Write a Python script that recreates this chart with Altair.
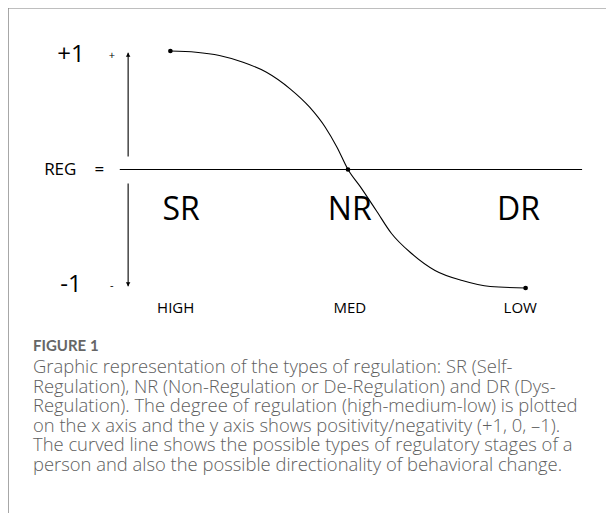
import altair as alt
import pandas as pd

# ---- data ----
curve_x = [0.0, 0.144, 0.276, 0.409, 0.541, 0.674, 0.784, 0.872, 0.938, 1.0,
           1.071, 1.159, 1.245, 1.358, 1.490, 1.643, 1.801, 2.0]
curve_y = [1.0, 0.990, 0.962, 0.905, 0.821, 0.681, 0.526, 0.357, 0.188, 0.0,
           -0.149, -0.346, -0.540, -0.709, -0.852, -0.937, -0.987, -1.0]

dot_x = [0.0, 1.0, 2.0]
dot_y = [1.0, 0.0, -1.0]

x_labels = ["HIGH", "MED", "LOW"]
x_label_pos = [0.03, 1.01, 1.97]

region_labels = ["SR", "NR", "DR"]
region_pos = [0.06, 1.01, 1.96]

y_labels = ["+1", "-1"]
y_label_val = [0.97, -0.975]
sign_labels = ["+", "-"]

reg_label = ["REG", "="]
reg_label_pos = [-0.62, -0.40]

caption_head = "FIGURE 1"
caption_lines = [
    "Graphic representation of the types of regulation: SR (Self-",
    "Regulation), NR (Non-Regulation or De-Regulation) and DR (Dys-",
    "Regulation). The degree of regulation (high-medium-low) is plotted",
    "on the x axis and the y axis shows positivity/negativity (+1, 0, \u20131).",
    "The curved line shows the possible types of regulatory stages of a",
    "person and also the possible directionality of behavioral change.",
]

# ---- geometry of the scales ----
W, H = 598, 505
XD = [-0.9144, -0.9144 + W / 177.6]
YD = [1.3629 - H / 118.5, 1.3629]
xs = alt.Scale(domain=XD, nice=False, zero=False)
ys = alt.Scale(domain=YD, nice=False, zero=False)

FONT = "Open Sans"

curve_df = pd.DataFrame({"x": curve_x, "y": curve_y, "o": list(range(len(curve_x)))})
dots_df = pd.DataFrame({"x": dot_x, "y": dot_y})
xlab_df = pd.DataFrame({"t": x_labels, "x": x_label_pos, "y": [-1.165] * 3})
reg_df = pd.DataFrame({"t": region_labels, "x": region_pos, "y": [-0.34] * 3})
ylab_df = pd.DataFrame({"t": y_labels, "x": [-0.560, -0.560], "y": y_label_val})
sign_df = pd.DataFrame({"t": sign_labels, "x": [-0.33, -0.33], "y": [0.96, -0.985]})
regeq_df = pd.DataFrame({"t": reg_label, "x": reg_label_pos, "y": [0.0, 0.0]})
hline_df = pd.DataFrame({"x": [-0.285], "x2": [2.318], "y": [0.0]})
vline_df = pd.DataFrame({"x": [-0.238, -0.238], "y": [0.985, -0.118], "y2": [0.11, -0.985]})
arrow_df = pd.DataFrame({"x": [-0.238, -0.238], "y": [0.968, -0.968],
                         "s": ["triangle-up", "triangle-down"]})

X = lambda f="x": alt.X(f"{f}:Q", scale=xs, axis=None)
Y = lambda f="y": alt.Y(f"{f}:Q", scale=ys, axis=None)

curve = alt.Chart(curve_df).mark_line(color="black", strokeWidth=1.1, interpolate="monotone").encode(
    x=X(), y=Y(), order="o:Q")
dots = alt.Chart(dots_df).mark_point(filled=True, color="black", size=22, opacity=1).encode(x=X(), y=Y())
hline = alt.Chart(hline_df).mark_rule(color="black", strokeWidth=1.2).encode(
    x=X(), x2="x2:Q", y=Y())
vline = alt.Chart(vline_df).mark_rule(color="black", strokeWidth=1.1).encode(
    x=X(), y=Y(), y2="y2:Q")
arrows = alt.Chart(arrow_df).mark_point(filled=True, color="black", size=20, opacity=1).encode(
    x=X(), y=Y(), shape=alt.Shape("s:N", scale=None))

xlab = alt.Chart(xlab_df).mark_text(font=FONT, fontSize=15, color="black", baseline="middle").encode(
    x=X(), y=Y(), text="t:N")
reglab = alt.Chart(reg_df).mark_text(font=FONT, fontSize=32, color="black", baseline="middle").encode(
    x=X(), y=Y(), text="t:N")
ylab = alt.Chart(ylab_df).mark_text(font=FONT, fontSize=24, color="black", baseline="middle").encode(
    x=X(), y=Y(), text="t:N")
signlab = alt.Chart(sign_df).mark_text(font=FONT, fontSize=11, color="black", baseline="middle").encode(
    x=X(), y=Y(), text="t:N")
regeq = alt.Chart(regeq_df).mark_text(font=FONT, fontSize=17, color="black", baseline="middle").encode(
    x=X(), y=Y(), text="t:N")

# frame and caption
top_border = alt.Chart(hline_df).mark_rule(color="#a8a8a8", strokeWidth=1.5).encode(
    x=alt.value(0), x2=alt.value(W), y=alt.value(0))
left_border = alt.Chart(hline_df).mark_rule(color="#8a8a8a", strokeWidth=1.5).encode(
    x=alt.value(0), y=alt.value(0), y2=alt.value(H))
cap_head = alt.Chart(pd.DataFrame({"t": [caption_head]})).mark_text(
    font="Lato", fontSize=15, fontWeight="bold", color="#666666", align="left", baseline="alphabetic"
).encode(x=alt.value(25), y=alt.value(343), text="t:N")
cap_body = alt.Chart(pd.DataFrame({"t": [caption_lines]})).mark_text(
    font="Open Sans", fontSize=18.4, fontWeight=300, color="#5e5e5e", align="left", baseline="alphabetic",
    lineHeight=19.6
).encode(x=alt.value(25), y=alt.value(365), text="t")

chart = alt.layer(
    top_border, left_border, hline, vline, arrows, curve, dots,
    xlab, reglab, ylab, signlab, regeq, cap_head, cap_body
).properties(
    width=W, height=H, padding=0, autosize=alt.AutoSizeParams(type="none")
).configure_view(strokeWidth=0)

chart.save("out.html", embed_options={"renderer": "svg", "actions": False})
